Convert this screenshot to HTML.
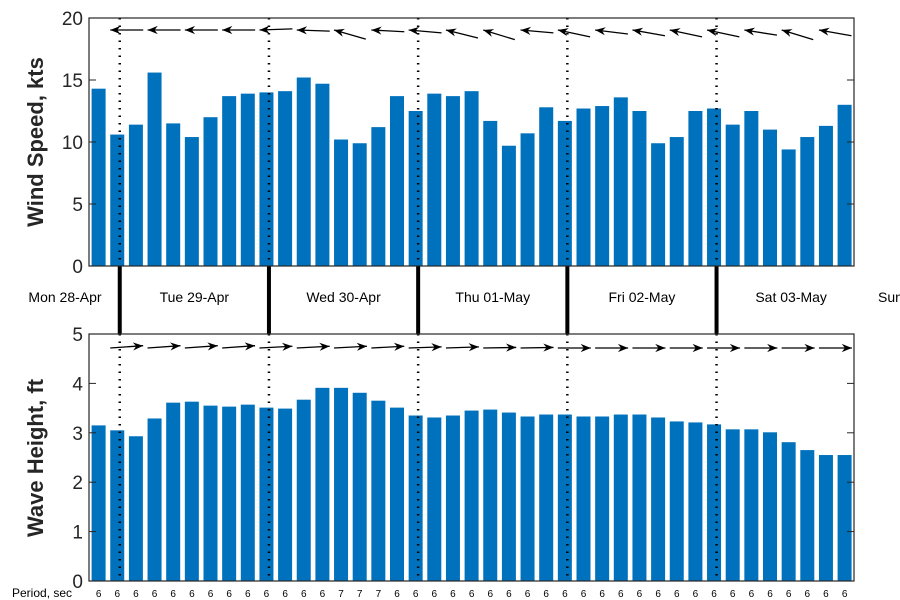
<!DOCTYPE html>
<html><head><meta charset="utf-8"><style>
body{margin:0;background:#fff;}
svg{display:block;font-family:"Liberation Sans","DejaVu Sans",sans-serif;}
</style></head><body>
<svg id="c" width="900" height="600" viewBox="0 0 900 600"></svg>
<script>
const windSpeed=[14.3,10.6,11.4,15.6,11.5,10.4,12.0,13.7,13.9,14.0,14.1,15.2,14.7,10.2,9.9,11.2,13.7,12.5,13.9,13.7,14.1,11.7,9.7,10.7,12.8,11.7,12.7,12.9,13.6,12.5,9.9,10.4,12.5,12.7,11.4,12.5,11.0,9.4,10.4,11.3,13.0];
const waveHeight=[3.15,3.05,2.93,3.29,3.61,3.63,3.55,3.53,3.57,3.51,3.49,3.67,3.91,3.91,3.81,3.65,3.51,3.35,3.31,3.35,3.45,3.47,3.41,3.33,3.37,3.37,3.33,3.33,3.37,3.37,3.31,3.23,3.21,3.17,3.07,3.07,3.01,2.81,2.65,2.55,2.55];
const periods=[6,6,6,6,6,6,6,6,6,6,6,6,6,7,7,7,6,6,6,6,6,6,6,6,6,6,6,6,6,6,6,6,6,6,6,6,6,6,6,6,6];
// wind arrow tail drop (degrees below horizontal, arrows point left)
const windDirDeg=[0,0,0,0,-2,2,16,3,5,14,17,5,12,7,10,12,12,9,17,10,10];
const waveDirDeg=[-4,-4,-4,-4,-3,-3,-3,-3,-2,-2,-1,-1,0,0,0,0,0,0,0,0,0];
const dayLabels=["Mon 28-Apr","Tue 29-Apr","Wed 30-Apr","Thu 01-May","Fri 02-May","Sat 03-May","Sun 04-May"];
const windTicks=[0,5,10,15,20];
const waveTicks=[0,1,2,3,4,5];

const NS="http://www.w3.org/2000/svg";
const svg=document.getElementById('c');
function el(t,a,p){const e=document.createElementNS(NS,t);for(const k in a)e.setAttribute(k,a[k]);(p||svg).appendChild(e);return e;}
const L=89,R=854;
const x=i=>98.6+i*18.65;
const T1=18,B1=266,T2=334,B2=581;
const yW=v=>B1-(v/20)*(B1-T1);
const yH=v=>B2-(v/5)*(B2-T2);
const blue="#0072bd";

// bars
windSpeed.forEach((v,i)=>{const r=el('rect',{x:x(i)-7,y:yW(v),width:14,height:B1-yW(v),fill:blue});

});
waveHeight.forEach((v,i)=>{const r=el('rect',{x:x(i)-7,y:yH(v),width:14,height:B2-yH(v),fill:blue});

});

// day separators
const dayX=[];for(let k=0;k<5;k++)dayX.push(x(1+8*k)+2.5);
dayX.forEach(dx=>{
 const d1=el('line',{x1:dx,y1:T1,x2:dx,y2:B1,stroke:'#000','stroke-width':2.5,'stroke-dasharray':'1.5 6'});
 
 
 const d2=el('line',{x1:dx,y1:T2,x2:dx,y2:B2,stroke:'#000','stroke-width':2.5,'stroke-dasharray':'1.5 6'});
 
 
 const s=el('line',{x1:dx,y1:B1,x2:dx,y2:T2,stroke:'#000','stroke-width':4});
 
 
});
dayLabels.forEach((t,k)=>{
 const cx=dayX[0]-149.2+k*149.2-74.6+149.2- (k===0?0:0);
 const c=(k===0)?65:(dayX[k-1]+(k<5?dayX[k]:dayX[4]+149.2))/2;
 const tx=el('text',{x:k===6?878:c,y:302,'font-size':14,fill:'#000','text-anchor':k===6?'start':'middle'});
 tx.textContent=t;
 
 
});

// arrows
function arrow(hx,hy,tx,ty,name){
 const g=el('g',{});
 
 
 el('line',{x1:tx,y1:ty,x2:hx,y2:hy,stroke:'#000','stroke-width':1.3},g);
 const a=Math.atan2(hy-ty,hx-tx),s=11,w=0.38;
 const p1=[hx-s*Math.cos(a-w),hy-s*Math.sin(a-w)],p2=[hx-s*Math.cos(a+w),hy-s*Math.sin(a+w)];
 const m=[hx-7*Math.cos(a),hy-7*Math.sin(a)];
 el('path',{d:`M${hx},${hy}L${p1}L${m}L${p2}Z`,fill:'#000'},g);
}
const clip1=el('clipPath',{id:'cp1'});el('rect',{x:L,y:T1,width:R-L,height:B1-T1},clip1);
const clip2=el('clipPath',{id:'cp2'});el('rect',{x:L,y:T2,width:R-L,height:B2-T2},clip2);
const g1=el('g',{'clip-path':'url(#cp1)'});const g2=el('g',{'clip-path':'url(#cp2)'});
windDirDeg.forEach((d,k)=>{const hx=x(1+2*k)-7,hy=30,r=d*Math.PI/180;
 const sv=svg;arrow(hx,hy,hx+33*Math.cos(r),hy+33*Math.sin(r),'wind-direction-arrow');g1.appendChild(svg.lastChild);});
waveDirDeg.forEach((d,k)=>{const tx=x(1+2*k)-7,ty=348,r=d*Math.PI/180;
 arrow(tx+33*Math.cos(r),ty+33*Math.sin(r),tx,ty,'wave-direction-arrow');g2.appendChild(svg.lastChild);});

// axes frames
[[T1,B1],[T2,B2]].forEach(([t,b],j)=>{
 const f=el('rect',{x:L,y:t,width:R-L,height:b-t,fill:'none',stroke:'#262626','stroke-width':1.2});
 
 
});
windTicks.forEach(v=>{const y=yW(v);
 el('line',{x1:L,y1:y,x2:L+7,y2:y,stroke:'#262626'});el('line',{x1:R-7,y1:y,x2:R,y2:y,stroke:'#262626'});
 const t=el('text',{x:L-6,y:y+7,'font-size':19,fill:'#262626','text-anchor':'end'});t.textContent=v;
 
 });
waveTicks.forEach(v=>{const y=yH(v);
 el('line',{x1:L,y1:y,x2:L+7,y2:y,stroke:'#262626'});el('line',{x1:R-7,y1:y,x2:R,y2:y,stroke:'#262626'});
 const t=el('text',{x:L-6,y:y+7,'font-size':19,fill:'#262626','text-anchor':'end'});t.textContent=v;
 
 });
[["Wind Speed, kts",142,'wind-y-axis-title'],["Wave Height, ft",458,'wave-y-axis-title']].forEach(([s,cy,n])=>{
 const t=el('text',{x:0,y:0,'font-size':22,'font-weight':'bold',fill:'#262626','text-anchor':'middle',transform:`translate(43,${cy}) rotate(-90)`});
 t.textContent=s;});
periods.forEach((p,i)=>{const t=el('text',{x:x(i),y:597,'font-size':10,fill:'#000','text-anchor':'middle'});t.textContent=p;
 
 });
const pt=el('text',{x:12,y:597,'font-size':12,fill:'#000'});pt.textContent="Period, sec";


</script>
</body></html>
